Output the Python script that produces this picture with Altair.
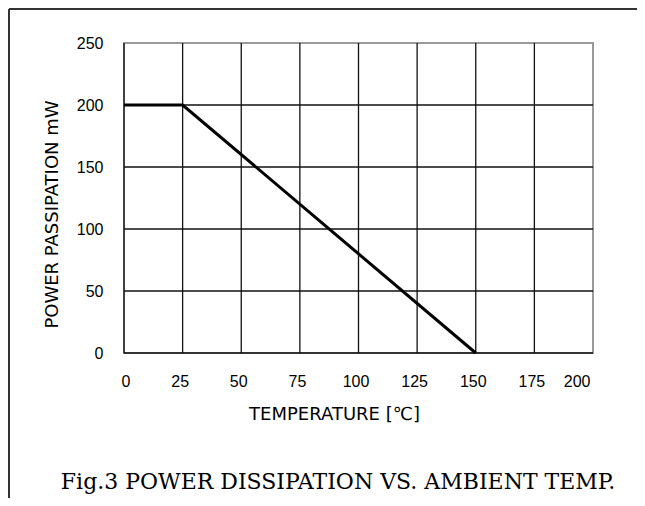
import altair as alt
import pandas as pd

# data
temperature = [0, 25, 150]
power = [200, 200, 0]
x_ticks = [0, 25, 50, 75, 100, 125, 150, 175, 200]
y_ticks = [0, 50, 100, 150, 200, 250]
x_grid = [0, 25, 50, 75, 100, 125, 150, 175]
y_grid = [0, 50, 100, 150, 200]

W, H = 469, 310
PAD_L, PAD_T = 116, 35
PAD_R = 629 - PAD_L - W
PAD_B = 490 - PAD_T - H

line_df = pd.DataFrame({"t": temperature, "p": power})
xg_df = pd.DataFrame({"t": x_grid})
yg_df = pd.DataFrame({"p": y_grid})
one = pd.DataFrame({"a": [0]})

xscale = alt.Scale(domain=[0, 200], nice=False, zero=False)
yscale = alt.Scale(domain=[0, 250], nice=False, zero=False)

label_font = "Liberation Sans"

x_axis = alt.Axis(
    values=x_ticks, grid=False, domain=False, ticks=False, tickSize=0,
    labelFont=label_font, labelFontSize=16, labelColor="#000",
    labelPadding=20, labelOffset=-3, labelAngle=0,
    title="TEMPERATURE [℃]", titleFont="DejaVu Sans", titleFontSize=18,
    titleFontWeight="normal", titleColor="#000",
    titleX=210, titleY=66, titleBaseline="alphabetic", titleAlign="center",
)
y_axis = alt.Axis(
    values=y_ticks, grid=False, domain=False, ticks=False, tickSize=0,
    labelFont=label_font, labelFontSize=16, labelColor="#000",
    labelPadding=21,
    title="POWER PASSIPATION mW", titleFont="DejaVu Sans", titleFontSize=18,
    titleFontWeight="normal", titleColor="#000",
    titleX=-72, titleY=171, titleAngle=-90, titleBaseline="middle", titleAlign="center",
)

# axes labels carried by an invisible base layer
base = alt.Chart(line_df).mark_point(opacity=0).encode(
    x=alt.X("t:Q", scale=xscale, axis=x_axis),
    y=alt.Y("p:Q", scale=yscale, axis=y_axis),
)

vgrid = alt.Chart(xg_df).mark_rule(color="#111", strokeWidth=1.3).encode(
    x=alt.X("t:Q", scale=xscale)
)
hgrid = alt.Chart(yg_df).mark_rule(color="#111", strokeWidth=1.3).encode(
    y=alt.Y("p:Q", scale=yscale)
)

curve = alt.Chart(line_df).mark_line(color="#000", strokeWidth=3).encode(
    x=alt.X("t:Q", scale=xscale),
    y=alt.Y("p:Q", scale=yscale),
)

frame_top = alt.Chart(one).mark_rule(color="#333", strokeWidth=2).encode(
    x=alt.value(-PAD_L + 1), x2=alt.value(W + PAD_R), y=alt.value(-PAD_T + 1)
)
frame_left = alt.Chart(one).mark_rule(color="#333", strokeWidth=2).encode(
    x=alt.value(-PAD_L + 1), y=alt.value(-PAD_T + 1), y2=alt.value(H + PAD_B)
)

caption = alt.Chart(one).mark_text(
    text="Fig.3 POWER DISSIPATION VS. AMBIENT TEMP.",
    font="DejaVu Serif", fontSize=22, color="#000",
    align="center", baseline="alphabetic",
).encode(x=alt.value(338 - 124), y=alt.value(489 - 43))

chart = alt.layer(base, vgrid, hgrid, curve, frame_top, frame_left, caption).properties(
    width=W, height=H,
    autosize=alt.AutoSizeParams(type="none"),
    padding={"left": PAD_L, "top": PAD_T, "right": PAD_R, "bottom": PAD_B},
    background="white",
).configure_view(stroke="#9a9a9a", strokeWidth=2)

chart.save("out.html", embed_options={"renderer": "svg", "actions": False})
